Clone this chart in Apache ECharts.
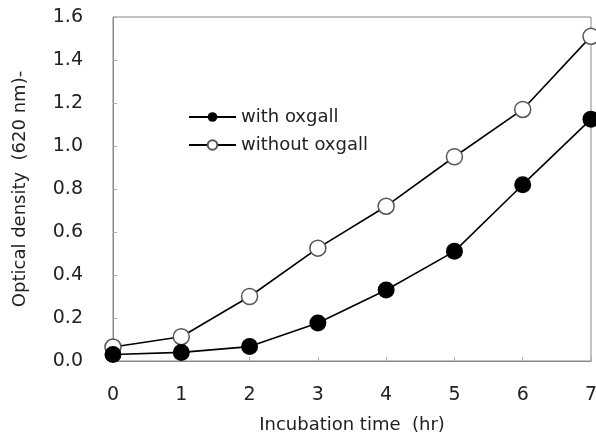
<!DOCTYPE html>
<html lang="en" style="height: 100%">
<head>
  <meta charset="utf-8">
</head>
<body style="height: 100%; margin: 0; background: #fff">
  <div id="container" style="width: 596px; height: 437px"></div>
  <script type="text/javascript" src="https://cdn.jsdelivr.net/npm/echarts@6/dist/echarts.min.js"></script>
  <script type="text/javascript">
    var hours = [0, 1, 2, 3, 4, 5, 6, 7];
    var withOxgall = [0.03, 0.04, 0.067, 0.177, 0.33, 0.51, 0.82, 1.125];
    var withoutOxgall = [0.065, 0.113, 0.3, 0.525, 0.72, 0.95, 1.17, 1.51];

    var pairs = (ys) => hours.map((h, i) => [h, ys[i]]);
    var font = 'DejaVu Sans';

    var myChart = echarts.init(document.getElementById('container'), null, { renderer: 'canvas' });
    var option = {
      animation: false,
      backgroundColor: '#fff',
      textStyle: { fontFamily: font },
      grid: {
        left: 113, right: 5, top: 17, bottom: 76,
        outerBoundsMode: 'none',
        containLabel: false,
        show: true, borderColor: '#888', borderWidth: 1
      },
      legend: {
        orient: 'vertical',
        left: 183,
        top: 103,
        itemGap: 10,
        itemWidth: 47,
        itemHeight: 12,
        textStyle: { fontSize: 18, color: '#222', fontFamily: font },
        data: ['with oxgall', 'without oxgall']
      },
      xAxis: {
        type: 'value', min: 0, max: 7, interval: 1,
        name: 'Incubation time  (hr)',
        nameLocation: 'middle', nameGap: 55,
        nameTextStyle: { fontSize: 18, color: '#222' },
        axisLine: { lineStyle: { color: '#888' } },
        axisTick: { inside: true, length: 4, lineStyle: { color: '#aaa' } },
        axisLabel: { fontSize: 19, color: '#222', margin: 25 },
        splitLine: { show: false }
      },
      yAxis: {
        type: 'value', min: 0, max: 1.6, interval: 0.2,
        name: 'Optical density  (620 nm)-',
        nameLocation: 'middle', nameGap: 84,
        nameTextStyle: { fontSize: 18, color: '#222' },
        axisLine: { show: true, lineStyle: { color: '#888' } },
        axisTick: { show: true, inside: true, length: 4, lineStyle: { color: '#aaa' } },
        axisLabel: { fontSize: 19, color: '#222', margin: 30, formatter: (v) => v.toFixed(1) },
        splitLine: { show: false }
      },
      series: [
        {
          name: 'without oxgall',
          type: 'line',
          data: pairs(withoutOxgall),
          symbol: 'circle',
          symbolSize: 16,
          lineStyle: { color: '#000', width: 1.6 },
          itemStyle: { color: '#fff', borderColor: '#555', borderWidth: 1.5 },
          z: 2
        },
        {
          name: 'with oxgall',
          type: 'line',
          data: pairs(withOxgall),
          symbol: 'circle',
          symbolSize: 17,
          lineStyle: { color: '#000', width: 1.6 },
          itemStyle: { color: '#000', borderColor: '#000', borderWidth: 0 },
          z: 3
        }
      ]
    };
    myChart.setOption(option);
  </script>
</body>
</html>
